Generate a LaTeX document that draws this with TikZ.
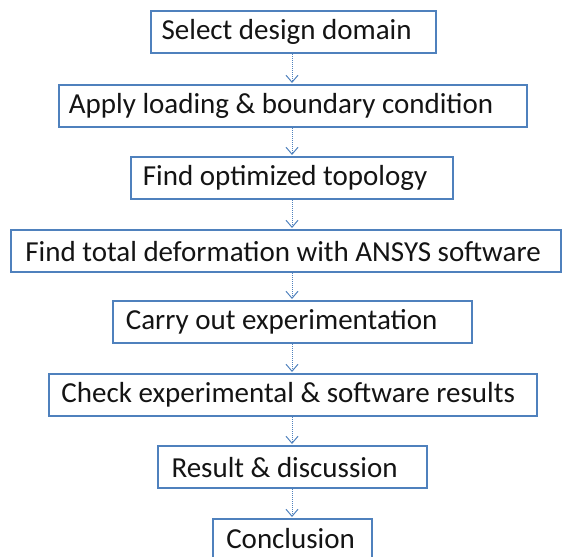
\documentclass[tikz,border=0pt]{standalone}
\usepackage{fontspec}
\setmainfont{Carlito}
\usetikzlibrary{arrows.meta}
\definecolor{boxblue}{RGB}{79,129,189}
\definecolor{txt}{RGB}{20,20,20}
\tikzset{
  stepbox/.style={draw=boxblue, line width=2.2pt, fill=white, text=txt,
    font=\fontsize{29}{31}\selectfont, inner sep=0pt, anchor=north west},
  flowarrow/.style={draw=boxblue, line width=1pt, densely dotted, shorten >=1pt,
    -{Straight Barb[length=7pt,width=12pt,line width=1pt,sharp]}}
}
\newcommand{\bx}[7]{% name, left, top, right, bottom, left shift of text, text
  \node[stepbox, minimum width=#4pt-#2pt, minimum height=#5pt-#3pt] (#1) at (#2pt,-#3pt) {#7\hspace*{#6pt}\hspace*{#6pt}};}
\begin{document}
\begin{tikzpicture}[x=1pt,y=1pt]
\useasboundingbox (0,0) rectangle (564,-556);
\bx{a}{150}{10}{435}{52}{7}{Select design domain}
\bx{b}{58}{84}{526}{126}{12}{Apply loading \& boundary condition}
\bx{c}{130}{156}{452}{198}{7}{Find optimized topology}
\bx{d}{10}{229}{560}{271}{3}{Find total deformation with ANSYS software}
\bx{e}{112}{300}{471}{342}{11}{Carry out experimentation}
\bx{f}{48}{373}{536}{415}{5}{Check experimental \& software results}
\bx{g}{157}{445}{426}{487}{8}{Result \& discussion}
\bx{h}{212}{518}{371}{557}{2}{Conclusion}
\foreach \u/\v in {a/b,b/c,c/d,d/e,e/f,f/g,g/h}
  \draw[flowarrow] (292,0 |- \u.south) -- (292,0 |- \v.north);
\end{tikzpicture}
\end{document}
